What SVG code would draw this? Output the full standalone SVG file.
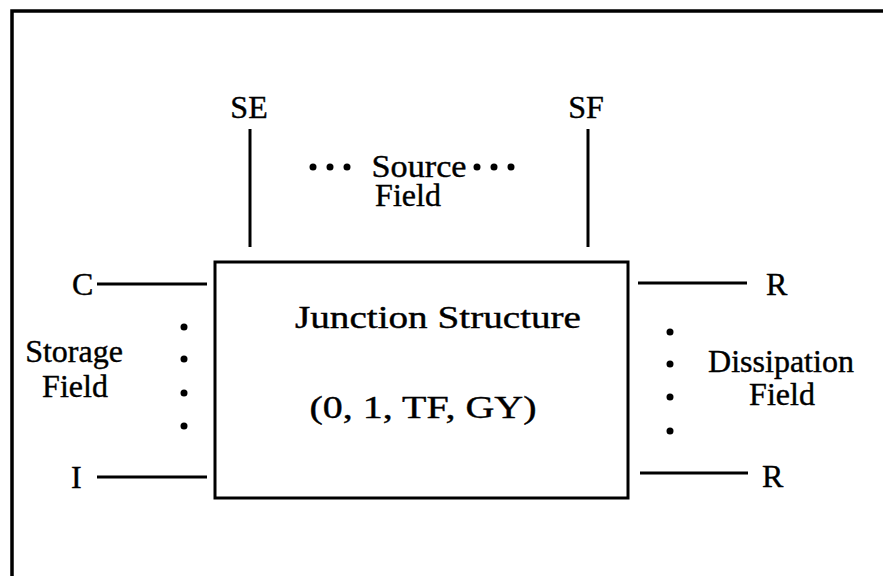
<svg xmlns="http://www.w3.org/2000/svg" width="883" height="576" viewBox="0 0 883 576">
<style>
text{font-family:"Liberation Serif","Times New Roman",serif;font-size:32px;fill:#000;stroke:#000;stroke-width:0.4}
.mid{text-anchor:middle}
.ln{stroke:#000;stroke-width:3;fill:none}
.frame{stroke:#000;stroke-width:3.5;fill:none}
.dot{fill:#000}
</style>
<rect width="883" height="576" fill="#fff"/>
<path class="frame" d="M12,576 V11 H883"/>
<g id="junction">
<rect x="215" y="262" width="413" height="236" fill="none" stroke="#000" stroke-width="3"/>
<text class="mid" x="438" y="328" font-size="33" textLength="286" lengthAdjust="spacingAndGlyphs">Junction Structure</text>
<text class="mid" x="423" y="418" font-size="33" textLength="227" lengthAdjust="spacingAndGlyphs">(0, 1, TF, GY)</text>
</g>
<g id="connectors">
<line class="ln" x1="250" y1="129" x2="250" y2="247"/>
<line class="ln" x1="588" y1="129" x2="588" y2="247"/>
<line class="ln" x1="97" y1="284" x2="207" y2="284"/>
<line class="ln" x1="97" y1="477" x2="207" y2="477"/>
<line class="ln" x1="638" y1="283" x2="747" y2="283"/>
<line class="ln" x1="640" y1="473" x2="748" y2="473"/>
</g>
<g id="SE"><text class="mid" x="249" y="118">SE</text></g>
<g id="SF"><text class="mid" x="586" y="118">SF</text></g>
<g id="C"><text x="72" y="295">C</text></g>
<g id="I"><text x="71" y="488">I</text></g>
<g id="R1"><text x="766" y="295">R</text></g>
<g id="R2"><text x="762" y="487">R</text></g>
<g id="source-field">
<circle class="dot" cx="313" cy="167" r="3.5"/>
<circle class="dot" cx="330" cy="167" r="3.5"/>
<circle class="dot" cx="347" cy="167" r="3.5"/>
<text class="mid" x="419" y="177" textLength="95" lengthAdjust="spacingAndGlyphs">Source</text>
<circle class="dot" cx="477" cy="167" r="3.5"/>
<circle class="dot" cx="494" cy="167" r="3.5"/>
<circle class="dot" cx="511" cy="167" r="3.5"/>
<text class="mid" x="408" y="206">Field</text>
</g>
<g id="storage-field">
<text class="mid" x="74" y="362">Storage</text>
<text class="mid" x="75" y="397">Field</text>
<circle class="dot" cx="184" cy="327" r="3.5"/>
<circle class="dot" cx="184" cy="359" r="3.5"/>
<circle class="dot" cx="184" cy="393" r="3.5"/>
<circle class="dot" cx="184" cy="426" r="3.5"/>
</g>
<g id="dissipation-field">
<circle class="dot" cx="670" cy="332" r="3.5"/>
<circle class="dot" cx="670" cy="364" r="3.5"/>
<circle class="dot" cx="670" cy="397" r="3.5"/>
<circle class="dot" cx="670" cy="431" r="3.5"/>
<text class="mid" x="781" y="372">Dissipation</text>
<text class="mid" x="782" y="405">Field</text>
</g>
</svg>
